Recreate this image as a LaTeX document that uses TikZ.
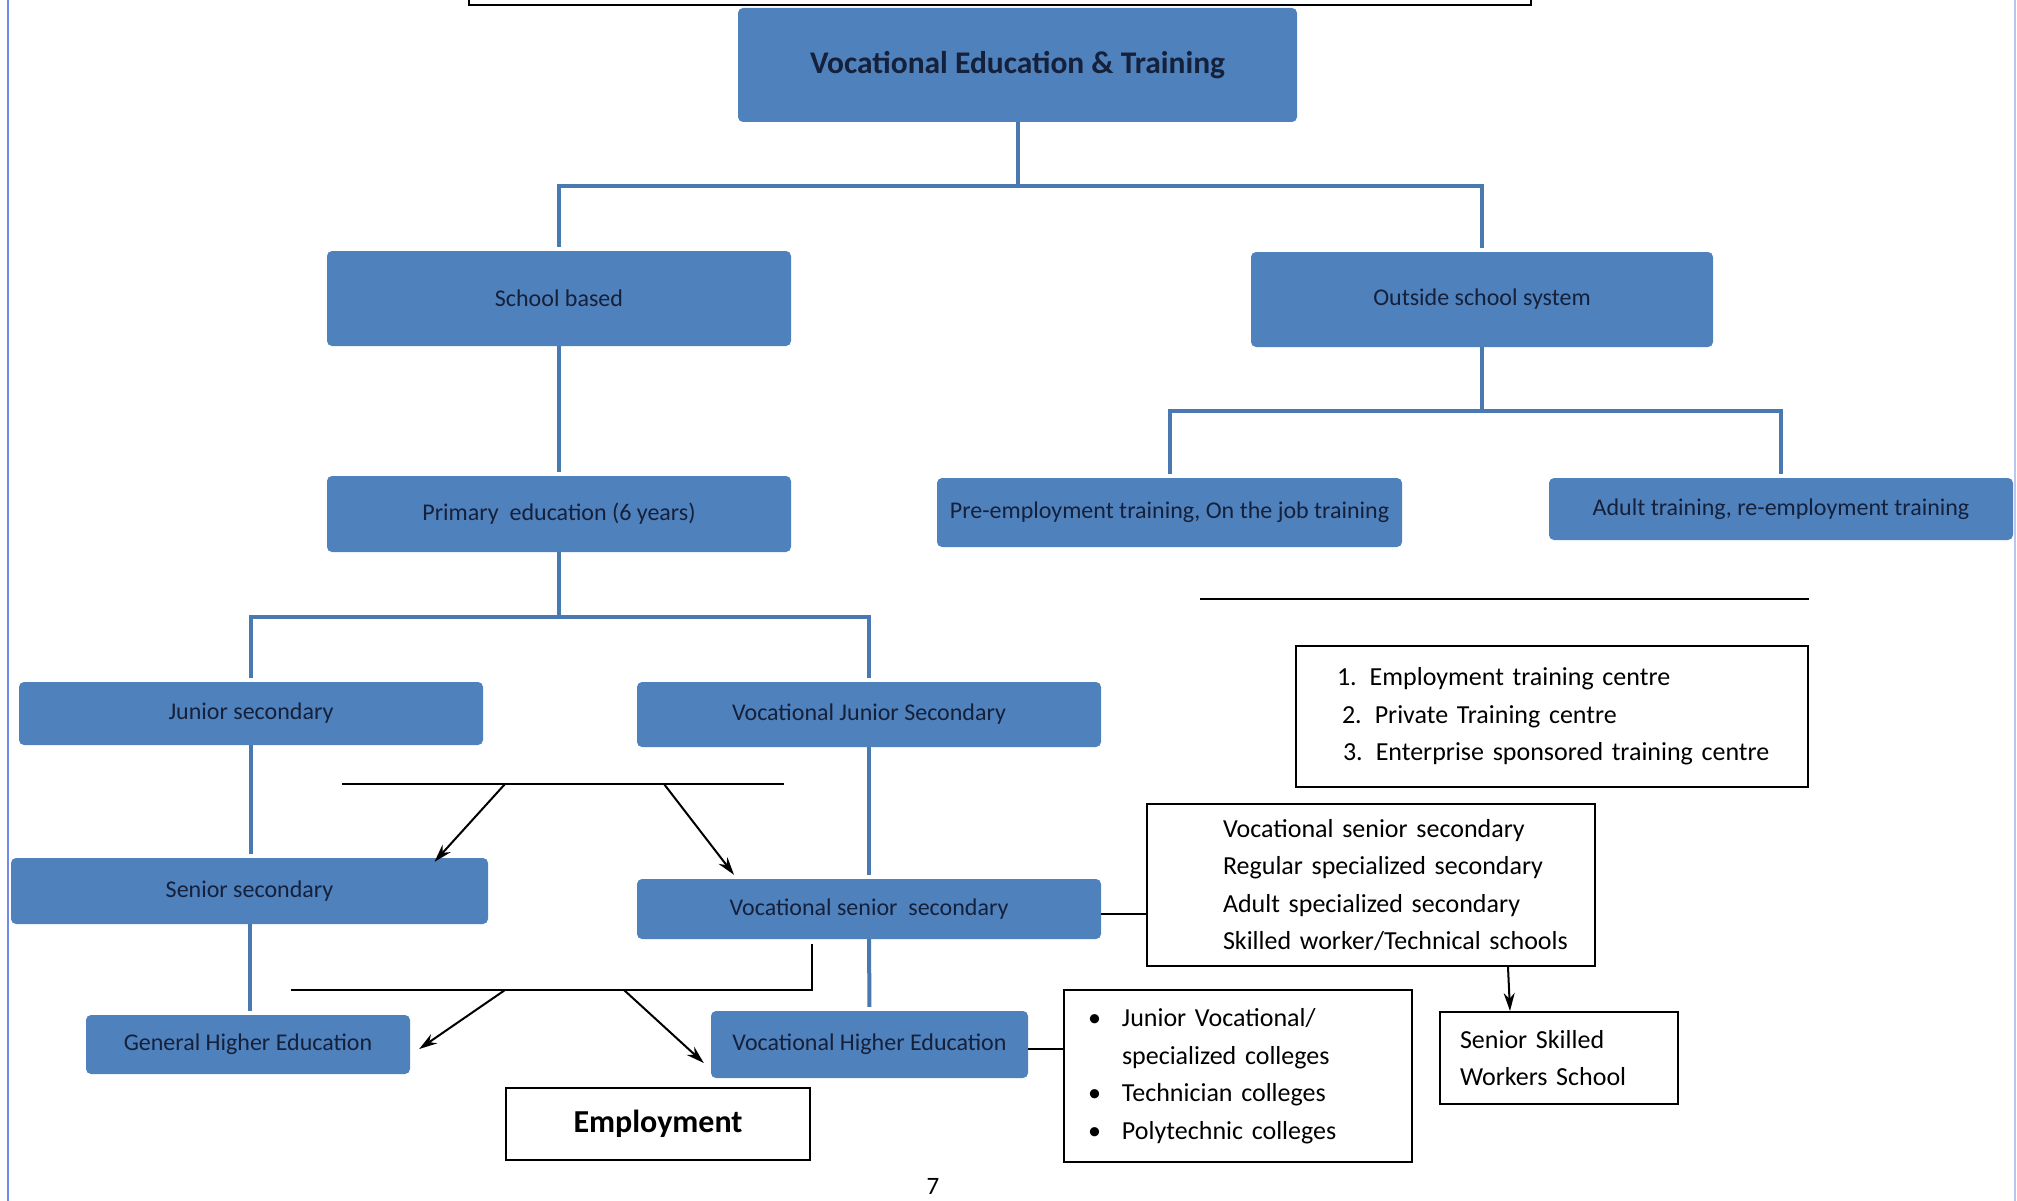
\documentclass[tikz,border=0pt]{standalone}
\usepackage{fontspec}
\setmainfont{Carlito}
\usetikzlibrary{arrows.meta}
\definecolor{boxblue}{HTML}{4F81BD}
\definecolor{linkblue}{HTML}{4A78B0}
\definecolor{edgeblue}{HTML}{7088F0}
\definecolor{edgepale}{HTML}{B8C6EE}
\definecolor{boxtext}{HTML}{15203A}
\begin{document}
\begin{tikzpicture}[x=1pt,y=-1pt,
  stagebox/.style={fill=boxblue,text=boxtext,rounded corners=5pt,minimum width=464pt,inner sep=0pt,font=\fontsize{24}{28}\selectfont},
  notebox/.style={draw,line width=2pt,inner xsep=0pt,align=left,font=\fontsize{26}{37.5}\selectfont},
  link/.style={draw=linkblue,line width=4pt,shorten >=4pt},
  bar/.style={line width=2.5pt},
  arrowline/.style={line width=2pt,-{Stealth[length=18pt,width=11pt]}}]
\useasboundingbox (0,0) rectangle (2017,1201);
\draw[edgeblue,line width=2pt] (8,0) -- (8,1201);
\draw[edgepale,line width=2pt] (2015,0) -- (2015,1201);
\draw[bar] (469,0) -- (469,5) -- (1531,5) -- (1531,0);

\node[stagebox,minimum width=559pt,minimum height=114pt,font=\bfseries\fontsize{31.5}{36}\selectfont] (vet) at (1017.5,65) {Vocational Education \& Training};
\node[stagebox,minimum height=95pt] (school) at (559,298.5) {School based};
\node[stagebox,minimum width=462pt,minimum height=95pt] (outside) at (1482,299.5) {Outside school system};
\node[stagebox,minimum height=76pt] (primary) at (559,514) {Primary\ \ education (6 years)};
\node[stagebox,minimum width=465pt,minimum height=69pt] (preemp) at (1169.5,512.5) {Pre-employment training, On the job training};
\node[stagebox,minimum height=62pt] (adult) at (1781,509) {Adult training, re-employment training};
\node[stagebox,minimum height=63pt] (junior) at (251,713.5) {Junior secondary};
\node[stagebox,minimum height=65pt] (vjunior) at (869,714.5) {Vocational Junior Secondary};
\node[stagebox,minimum width=477pt,minimum height=66pt] (senior) at (249.5,891) {Senior secondary};
\node[stagebox,minimum height=60pt] (vsenior) at (869,909) {Vocational senior\ \ secondary};
\node[stagebox,minimum width=324pt,minimum height=59pt] (genhigh) at (248,1044.5) {General Higher Education};
\node[stagebox,minimum width=317pt,minimum height=67pt] (vochigh) at (869.5,1044.5) {Vocational Higher Education};

\node[notebox,text width=512pt,minimum height=141pt] (centres) at (1552,716.5) {\hspace*{41pt}1. Employment training centre\\ \hspace*{46pt}2. Private Training centre\\ \hspace*{47pt}3. Enterprise sponsored training centre};
\node[notebox,text width=448pt,minimum height=162pt] (secondary) at (1371,885) {\hspace*{76pt}Vocational senior secondary\\ \hspace*{76pt}Regular specialized secondary\\ \hspace*{76pt}Adult specialized secondary\\ \hspace*{76pt}Skilled worker/Technical schools};
\node[notebox,text width=348pt,minimum height=172pt] (colleges) at (1238,1076) {\hspace*{24pt}\makebox[34pt][l]{\textbullet}Junior Vocational/\\ \hspace*{58pt}specialized colleges\\ \hspace*{24pt}\makebox[34pt][l]{\textbullet}Technician colleges\\ \hspace*{24pt}\makebox[34pt][l]{\textbullet}Polytechnic colleges};
\node[notebox,text width=238pt,minimum height=92pt] (skilled) at (1559,1058) {\hspace*{20pt}Senior Skilled\\ \hspace*{20pt}Workers School};
\node[notebox,minimum width=304pt,minimum height=72pt,align=center,font=\bfseries\fontsize{32}{38}\selectfont] (employ) at (658,1124) {Employment};
\node[font=\fontsize{25}{28}\selectfont] (page) at (933,1186) {7};

\draw[link] (vet.south) -- ++(0,64) coordinate (fork1) -| (school.north);
\draw[link] (fork1) -| (outside.north);
\draw[link] (school) -- (primary);
\draw[link] (outside.south) -- ++(0,64) coordinate (fork3) -| (preemp.north);
\draw[link] (fork3) -| (adult.north);
\draw[link] (primary.south) -- ++(0,65) coordinate (fork2) -| (junior.north);
\draw[link] (fork2) -| (vjunior.north);
\draw[link] (junior.south) -- (junior.south |- senior.north);
\draw[link] (vjunior) -- (vsenior);
\draw[link] (senior.south) -- (senior.south |- genhigh.north);
\draw[link] (vsenior) -- (vochigh);

\draw[bar] (1200,599) -- (1809,599);
\draw[bar] (342,784) -- (784,784);
\coordinate (split1) at (505,784);
\coordinate (split2) at (664,784);
\draw[arrowline] (split1) -- ([xshift=185pt,yshift=-4pt]senior.north);
\draw[arrowline] (split2) -- ([xshift=-135pt,yshift=4pt]vsenior.north);
\draw[bar] ([xshift=-57pt,yshift=-5pt]vsenior.south) |- (291,990);
\coordinate (split3) at (505,990);
\coordinate (split4) at (624,990);
\draw[arrowline] (split3) -- ([xshift=9pt,yshift=-4.5pt]genhigh.east);
\draw[arrowline] (split4) -- ([xshift=-7pt,yshift=-18.5pt]vochigh.west);
\draw[bar] ([yshift=-5pt]vsenior.east) -- ([yshift=-5pt]vsenior.east -| secondary.west);
\draw[bar] ([yshift=-4.5pt]vochigh.east) -- ([yshift=-4.5pt]vochigh.east -| colleges.west);
\draw[arrowline] ([xshift=137pt]secondary.south) -- ([xshift=-49pt]skilled.north);
\end{tikzpicture}
\end{document}
